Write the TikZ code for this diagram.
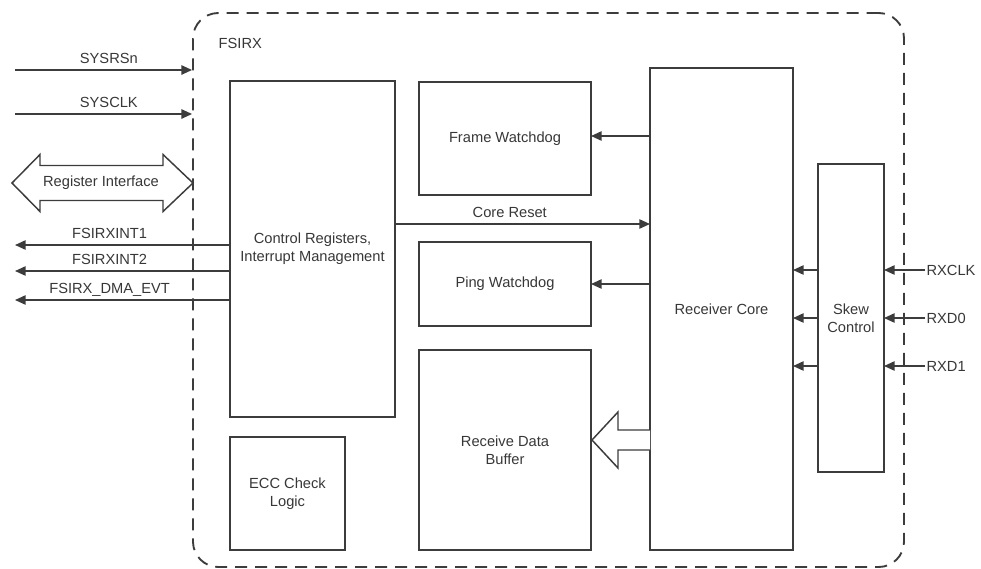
\documentclass[tikz,border=0pt]{standalone}
\usepackage{fontspec}
\setmainfont{Liberation Sans}
\usetikzlibrary{arrows.meta}
\definecolor{dgray}{RGB}{60,60,60}
\definecolor{txt}{RGB}{55,55,55}

\begin{document}
\begin{tikzpicture}[x=0.75pt, y=-0.75pt,
    font=\fontsize{11}{13.5}\selectfont, text=txt,
    block/.style={draw=dgray, line width=1.4pt, inner sep=0pt, outer sep=0pt, align=center},
    sig/.style={draw=dgray, line width=1.2pt, -{Triangle[length=8pt, width=7pt]}},
    lbl/.style={above=3.5pt, inner sep=1pt, text depth=0pt},
    hollow/.style={draw=dgray, line width=1.1pt, fill=white}]
    \useasboundingbox (0,0) rectangle (981,568);

    \node[draw=dgray, line width=1.4pt, dash pattern=on 9pt off 6pt, rounded corners=19pt,
          minimum width=533.25pt, minimum height=415.5pt] (fsirx) at (548.5,290) {};
    \node[anchor=west] (fsirxname) at (214,43) {FSIRX};

    \node[block, minimum width=123.75pt, minimum height=252pt] (ctrl) at (312.5,249) {Control Registers,\\Interrupt Management};
    \node[block, minimum width=86.25pt, minimum height=84.75pt] (ecc) at (287.5,493.5) {ECC Check\\Logic};
    \node[block, minimum width=129pt, minimum height=84.75pt] (frame) at (505,138.5) {Frame Watchdog};
    \node[block, minimum width=129pt, minimum height=63pt] (ping) at (505,284) {Ping Watchdog};
    \node[block, minimum width=129pt, minimum height=150pt] (buf) at (505,450) {Receive Data\\Buffer};
    \node[block, minimum width=107.25pt, minimum height=361.5pt] (core) at (721.5,309) {Receiver Core};
    \node[block, minimum width=49.5pt, minimum height=231pt] (skew) at (851,318) {Skew\\Control};

    \coordinate (sysrsn) at (15,70);
    \coordinate (sysclk) at (15,114);
    \draw[sig] (sysrsn) -- node[lbl, pos=0.53] {SYSRSn} (sysrsn -| fsirx.west);
    \draw[sig] (sysclk) -- node[lbl, pos=0.53] {SYSCLK} (sysclk -| fsirx.west);

    \draw[hollow] (12,183) -- (40,154.5) -- (40,165.5) -- (163,165.5) -- (163,154.5) -- (193,183)
        -- (163,211.5) -- (163,200.5) -- (40,200.5) -- (40,211.5) -- cycle;
    \node (regif) at (101,183) {Register Interface};

    \foreach \y/\name/\txt in {245/int1/FSIRXINT1, 271/int2/FSIRXINT2, 300/dma/FSIRX\_DMA\_EVT} {
        \coordinate (\name) at (15,\y);
        \draw[sig] (\name -| ctrl.west) -- node[lbl, pos=0.56] {\txt} (\name);
    }

    \coordinate (rst) at (0,224);
    \coordinate (fwd) at (0,136);
    \draw[sig] (rst -| ctrl.east) -- node[lbl, pos=0.45] {Core Reset} (rst -| core.west);
    \draw[sig] (fwd -| core.west) -- (fwd -| frame.east);
    \draw[sig] (ping.east -| core.west) -- (ping.east);

    \draw[hollow] (650,430) -- (618,430) -- (618,412) -- (592,440) -- (618,468) -- (618,450) -- (650,450);

    \foreach \y/\name/\txt in {270/rxclk/RXCLK, 318/rxd0/RXD0, 366/rxd1/RXD1} {
        \node[anchor=west, inner sep=1pt] (\name) at (925,\y) {\txt};
        \draw[sig] (\name.west) -- (\name.west -| skew.east);
        \draw[sig] (\name.west -| skew.west) -- (\name.west -| core.east);
    }
\end{tikzpicture}
\end{document}
